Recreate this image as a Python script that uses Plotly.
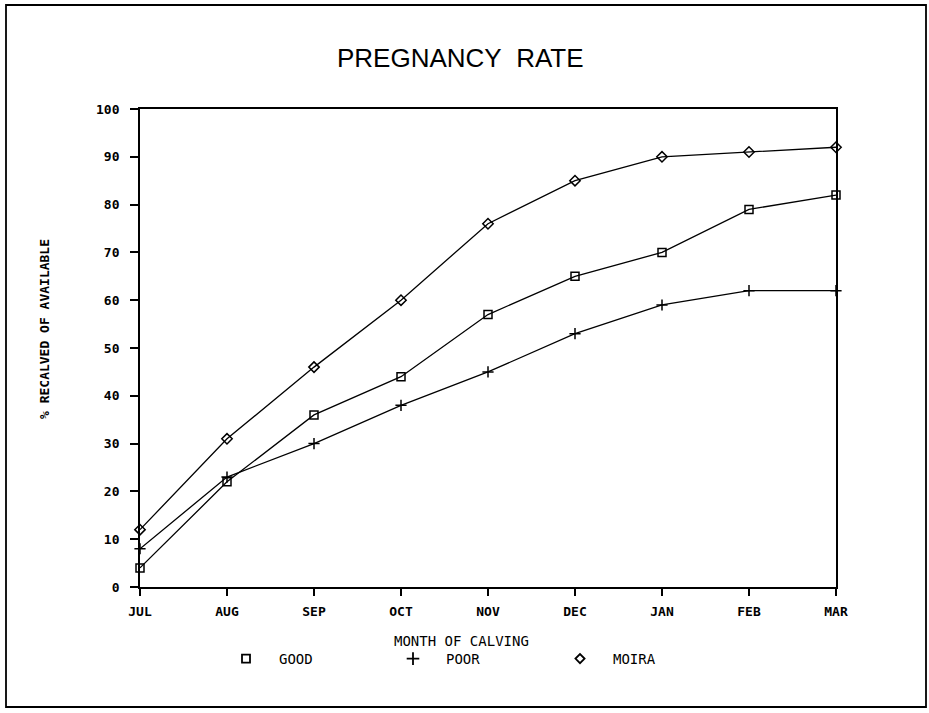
import plotly.graph_objects as go

months = ["JUL", "AUG", "SEP", "OCT", "NOV", "DEC", "JAN", "FEB", "MAR"]
good = [4, 22, 36, 44, 57, 65, 70, 79, 82]
poor = [8, 23, 30, 38, 45, 53, 59, 62, 62]
moira = [12, 31, 46, 60, 76, 85, 90, 91, 92]
y_ticks = [0, 10, 20, 30, 40, 50, 60, 70, 80, 90, 100]

x = list(range(len(months)))

W, H = 929, 713
L, R, T, B = 140, 93, 109, 126
pw, ph = W - L - R, H - T - B


def px(xp):
    return (xp - L) / pw


def py(yp):
    return (H - B - yp) / ph


MONO = "DejaVu Sans Mono"

fig = go.Figure()
series = [
    ("GOOD", good, "square-open", 8, 8),
    ("POOR", poor, "cross-thin-open", 8, 9),
    ("MOIRA", moira, "diamond-open", 8, 7),
]
for name, vals, sym, sz, lsz in series:
    fig.add_trace(go.Scatter(
        x=x, y=vals, mode="lines+markers", name=name, showlegend=False,
        line=dict(color="black", width=1.3),
        marker=dict(symbol=sym, size=sz, color="black",
                    line=dict(color="black", width=1.5)),
        cliponaxis=False,
    ))
    fig.add_trace(go.Scatter(
        x=[None], y=[None], mode="markers", name=name, showlegend=True,
        marker=dict(symbol=sym, size=lsz, color="black",
                    line=dict(color="black", width=1.8)),
    ))

tickfont = dict(family=MONO, size=13, color="black", weight="bold")
fig.update_xaxes(
    range=[0, 8], tickvals=x, ticktext=months, showgrid=False, zeroline=False,
    showline=True, linecolor="black", linewidth=1.8, mirror=True,
    ticks="outside", ticklen=7, tickwidth=1.6, tickcolor="black",
    tickfont=tickfont, ticklabelstandoff=4,
)
fig.update_yaxes(
    range=[0, 100], tickvals=y_ticks, showgrid=False, zeroline=False,
    showline=True, linecolor="black", linewidth=1.8, mirror=True,
    ticks="outside", ticklen=8, tickwidth=1.6, tickcolor="black",
    tickfont=tickfont, ticklabelstandoff=8,
)

fig.add_shape(type="rect", xref="paper", yref="paper",
              x0=px(6), x1=px(926), y0=py(707), y1=py(5),
              line=dict(color="black", width=1.8))

fig.add_annotation(text="PREGNANCY\u00a0\u00a0RATE", xref="paper", yref="paper",
                   x=px(460), y=py(58), xanchor="center", yanchor="middle",
                   showarrow=False,
                   font=dict(family="Liberation Sans", size=26, color="black"))
fig.add_annotation(text="% RECALVED OF AVAILABLE", xref="paper", yref="paper",
                   x=px(44), y=py(329), xanchor="center", yanchor="middle",
                   showarrow=False, textangle=-90,
                   font=dict(family=MONO, size=13, color="black", weight="bold"))
fig.add_annotation(text="MONTH OF CALVING", xref="paper", yref="paper",
                   x=px(461), y=py(641), xanchor="center", yanchor="middle",
                   showarrow=False,
                   font=dict(family=MONO, size=14, color="black"))

fig.update_layout(
    width=W, height=H, margin=dict(l=L, r=R, t=T, b=B),
    paper_bgcolor="white", plot_bgcolor="white",
    legend=dict(orientation="h", x=px(213), y=py(659), xanchor="left",
                yanchor="middle", entrywidth=96, entrywidthmode="pixels",
                itemwidth=56,
                font=dict(family=MONO, size=14, color="black"),
                bgcolor="rgba(0,0,0,0)"),
)

fig.write_html("out.html", post_script="document.body.style.margin='0';",
               config={"displayModeBar": False})
